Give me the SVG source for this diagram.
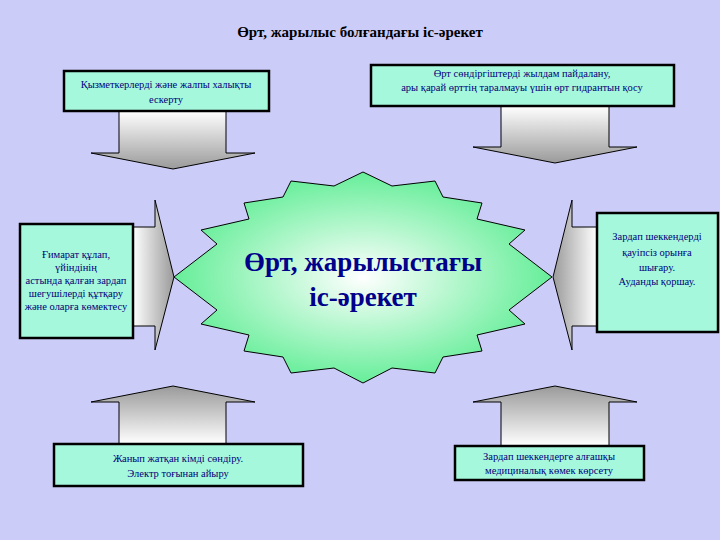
<svg xmlns="http://www.w3.org/2000/svg" width="720" height="540" viewBox="0 0 720 540">
<defs>
<style>
.box{fill:#a6f8dc;stroke:#000;stroke-width:2.5}
.t{font-family:"Liberation Serif",serif;font-size:10.5px;fill:#00007a;text-anchor:middle}
.arr{stroke:#000;stroke-width:1}
.c{font-family:"Liberation Serif",serif;font-size:27px;font-weight:bold;fill:#00008b;text-anchor:middle}
</style>
<linearGradient id="gd" x1="0" y1="0" x2="0" y2="1"><stop offset="0" stop-color="#ffffff"/><stop offset="1" stop-color="#9a9a9a"/></linearGradient>
<linearGradient id="gu" x1="0" y1="1" x2="0" y2="0"><stop offset="0" stop-color="#ffffff"/><stop offset="1" stop-color="#9a9a9a"/></linearGradient>
<linearGradient id="gr" x1="0" y1="0" x2="1" y2="0"><stop offset="0" stop-color="#ffffff"/><stop offset="1" stop-color="#9a9a9a"/></linearGradient>
<linearGradient id="gl" x1="1" y1="0" x2="0" y2="0"><stop offset="0" stop-color="#ffffff"/><stop offset="1" stop-color="#9a9a9a"/></linearGradient>
<radialGradient id="gs" cx="0.5" cy="0.5" r="0.5"><stop offset="0" stop-color="#ffffff"/><stop offset="1" stop-color="#66ee99"/></radialGradient>
</defs>
<rect width="720" height="540" fill="#ccccf8"/>
<text x="360" y="37" font-family="Liberation Serif,serif" font-size="15" font-weight="bold" text-anchor="middle" fill="#000">Өрт, жарылыс болғандағы іс-әрекет</text>
<g id="connectors">
<path class="arr" fill="url(#gd)" d="M119,111 H226 V153 H255 L173,169 L91,153 H119 Z"/>
<path class="arr" fill="url(#gd)" d="M501,106 H609 V147 H637 L555,163 L473,147 H501 Z"/>
<path class="arr" fill="url(#gr)" d="M133,227 H155 V200 L174,277 L155,350 V326 H133 Z"/>
<path class="arr" fill="url(#gl)" d="M597,227 H572 V200 L553,277 L572,350 V326 H597 Z"/>
<path class="arr" fill="url(#gu)" d="M119,444 H226 V402 H255 L173,386 L91,402 H119 Z"/>
<path class="arr" fill="url(#gu)" d="M501,446 H609 V402 H637 L555,386 L473,402 H501 Z"/>
</g>
<g id="center">
<polygon fill="url(#gs)" stroke="#000" stroke-width="1" points="363,172 392,186 435,181 443,197 482,203 477,219 525,230 509,244 552,277 509,310 525,324 477,335 482,351 443,357 435,373 392,368 363,383 334,368 291,373 283,357 244,351 249,335 201,324 217,310 174,277 217,244 201,230 249,219 244,203 283,197 291,181 334,186"/>
<text class="c" x="363" y="271">Өрт, жарылыстағы</text>
<text class="c" x="363" y="306">іс-әрекет</text>
</g>
<g id="n1"><rect class="box" x="64" y="71" width="205" height="40"/>
<text class="t" x="166" y="88">Қызметкерлерді және жалпы халықты</text><text class="t" x="166" y="103">ескерту</text></g>
<g id="n2"><rect class="box" x="371" y="65" width="303" height="41"/>
<text class="t" x="522" y="77">Өрт сөндіргіштерді жылдам пайдалану,</text><text class="t" x="522" y="91">ары қарай өрттің таралмауы үшін өрт гидрантын қосу</text></g>
<g id="n3"><rect class="box" x="20" y="224" width="113" height="114"/>
<text class="t" x="76" y="258">Ғимарат құлап,</text><text class="t" x="76" y="271">үйіндінің</text><text class="t" x="76" y="284">астында қалған зардап</text><text class="t" x="76" y="297">шегушілерді құтқару</text><text class="t" x="76" y="310">және оларға көмектесу</text></g>
<g id="n4"><rect class="box" x="597" y="213" width="121" height="119"/>
<text class="t" x="657" y="240">Зардап шеккендерді</text><text class="t" x="657" y="256">қауіпсіз орынға</text><text class="t" x="657" y="271">шығару.</text><text class="t" x="657" y="285">Ауданды қоршау.</text></g>
<g id="n5"><rect class="box" x="54" y="444" width="249" height="42"/>
<text class="t" x="178" y="462">Жанып жатқан кімді сөндіру.</text><text class="t" x="178" y="477">Электр тоғынан айыру</text></g>
<g id="n6"><rect class="box" x="455" y="446" width="189" height="34"/>
<text class="t" x="549" y="460">Зардап шеккендерге алғашқы</text><text class="t" x="549" y="474">медициналық көмек көрсету</text></g>
</svg>
